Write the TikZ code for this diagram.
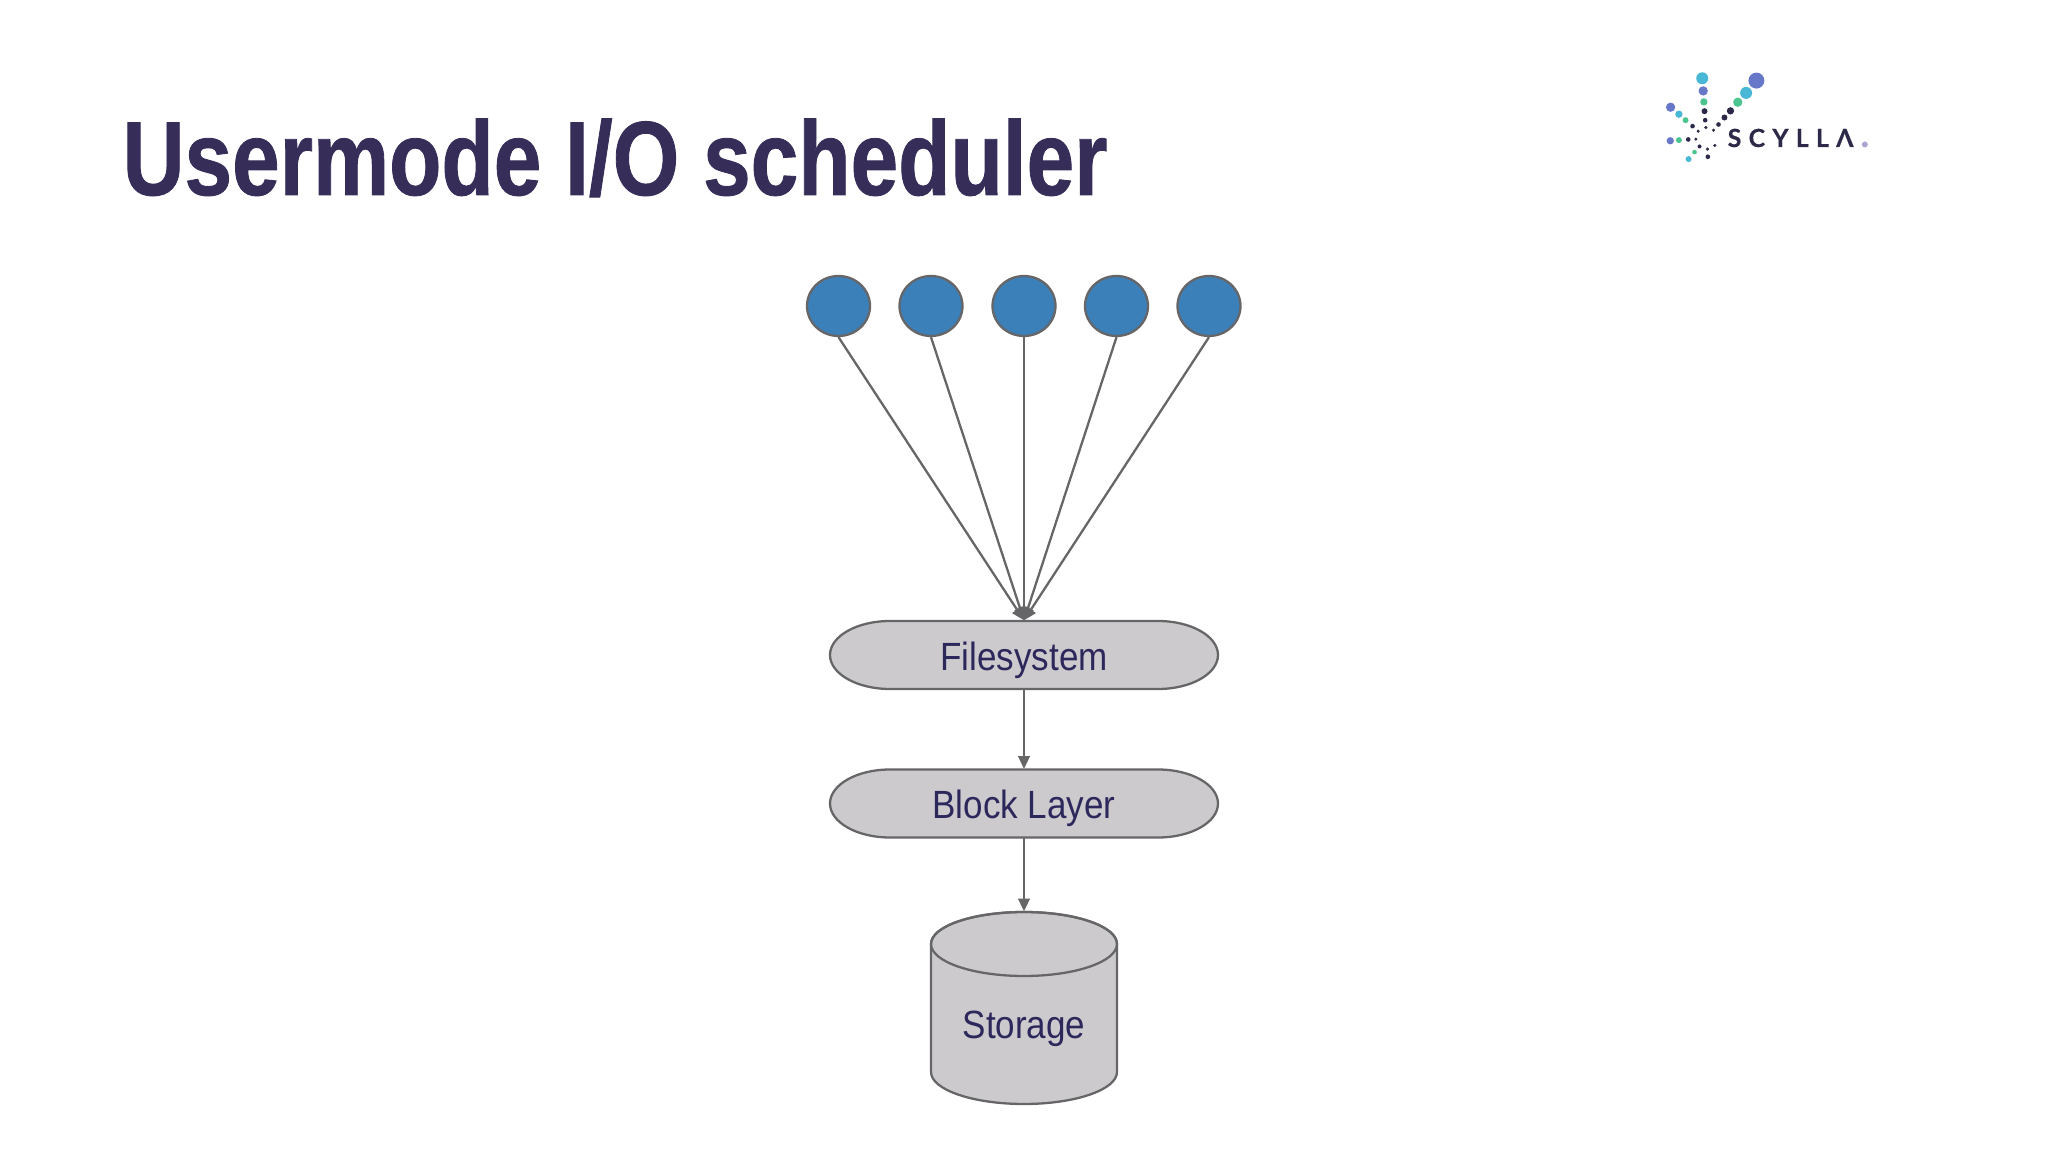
\documentclass[tikz,border=0pt]{standalone}
\usepackage{fontspec}
\setmainfont[FakeStretch=0.89]{Liberation Sans}
\newfontfamily\titlefont[FakeStretch=0.812, FakeBold=0.8]{Liberation Sans}
\newfontfamily\logofont[LetterSpace=29, FakeBold=0.5]{Lato}
\usepackage{tikz}
\usetikzlibrary{arrows.meta, positioning, calc, shapes.geometric}
\definecolor{inktitle}{RGB}{54,45,89}
\definecolor{inklabel}{RGB}{45,40,92}
\definecolor{shapefill}{RGB}{204,202,204}
\definecolor{shapeline}{RGB}{102,102,104}
\definecolor{procblue}{RGB}{60,128,186}
\definecolor{logoteal}{RGB}{72,184,214}
\definecolor{logoblue}{RGB}{104,120,200}
\definecolor{logogreen}{RGB}{76,196,144}
\definecolor{logodark}{RGB}{44,42,72}
\definecolor{logodot}{RGB}{170,165,210}
\tikzset{
  flowline/.style={draw=shapeline, line width=0.65pt, -{Triangle[length=3.6pt, width=3.3pt]}},
  procdot/.style={ellipse, draw=shapeline, line width=0.65pt, fill=procblue, minimum width=0.63cm, minimum height=0.6cm, inner sep=0pt},
  layerbox/.style={minimum width=3.87cm, minimum height=0.68cm, inner sep=0pt, text height=0.30cm, text depth=0pt, text=inklabel, font=\fontsize{11.2}{13}\selectfont},
  pillline/.style={draw=shapeline, line width=0.65pt, fill=shapefill},
}
\begin{document}
\begin{tikzpicture}
  \useasboundingbox (0,0) rectangle (20.48,-11.52);
  \node[anchor=base west, inner sep=0pt, text=inktitle, font=\titlefont\bfseries\fontsize{30}{36}\selectfont] (title) at (1.22,-1.95) {Usermode I/O scheduler};
  % Processes on top
  \foreach \i/\x in {1/8.385, 2/9.31, 3/10.24, 4/11.165, 5/12.09} {
    \node[procdot] (proc\i) at (\x,-3.06) {};
  }
  % Layers
  \foreach \name/\y/\txt in {filesystem/-6.55/Filesystem, blocklayer/-8.035/Block Layer} {
    \path[pillline] (8.9,\y+0.34) -- (11.58,\y+0.34)
      arc[start angle=90, end angle=-90, x radius=0.6, y radius=0.34]
      -- (8.9,\y-0.34)
      arc[start angle=270, end angle=90, x radius=0.6, y radius=0.34] -- cycle;
    \node[layerbox] (\name) at (10.24,\y) {\txt};
  }
  % Storage drum
  \path[pillline] (9.31,-9.44) -- (9.31,-10.72)
    arc[start angle=180, end angle=360, x radius=0.93, y radius=0.32]
    -- (11.17,-9.44)
    arc[start angle=0, end angle=180, x radius=0.93, y radius=0.32];
  \draw[shapeline, line width=0.65pt] (10.24,-9.44) ellipse (0.93 and 0.32);
  \node[layerbox, minimum width=1.86cm, minimum height=1.92cm, text height=0.61cm] (storage) at (10.24,-10.08) {Storage};
  % Connectors
  \foreach \i in {1,...,5} {
    \draw[flowline] (proc\i.south) -- (filesystem.north);
  }
  \draw[flowline] (filesystem.south) -- (blocklayer.north);
  \draw[flowline] (blocklayer.south) -- (storage.north);
  % Logo
  \begin{scope}[shift={(16.40,-0.50)}, x=0.00333cm, y=-0.00333cm]
    \foreach \x/\y/\r in {187/85/18, 319/129/18, 117/193/11, 146/328/9} {
      \fill[logoteal] (\x,\y) circle (\r);
    }
    \foreach \x/\y/\r in {190/123/14, 350/92/24, 92/172/14, 91/273/11} {
      \fill[logoblue] (\x,\y) circle (\r);
    }
    \foreach \x/\y/\r in {192/156/11, 294/157/14, 137/211/9, 117/271/9, 164/307/7} {
      \fill[logogreen] (\x,\y) circle (\r);
    }
    \foreach \x/\y/\r in {194/184/9, 196/211/7, 198/233/5, 272/183/11, 254/203/9, 236/224/7, 221/241/5, 158/229/7, 175/244/5, 145/269/7, 168/268/5, 179/290/6, 204/321/7, 203/298/5, 225/287/5} {
      \fill[logodark] (\x,\y) circle (\r);
    }
    \fill[logodot] (676,284) circle (9);
  \end{scope}
  \node[anchor=base west, inner sep=0pt, text=logodark, font=\logofont\bfseries\fontsize{7.1}{8}\selectfont] (logotext) at (17.27,-1.47) {SCYLLΛ};
\end{tikzpicture}
\end{document}
